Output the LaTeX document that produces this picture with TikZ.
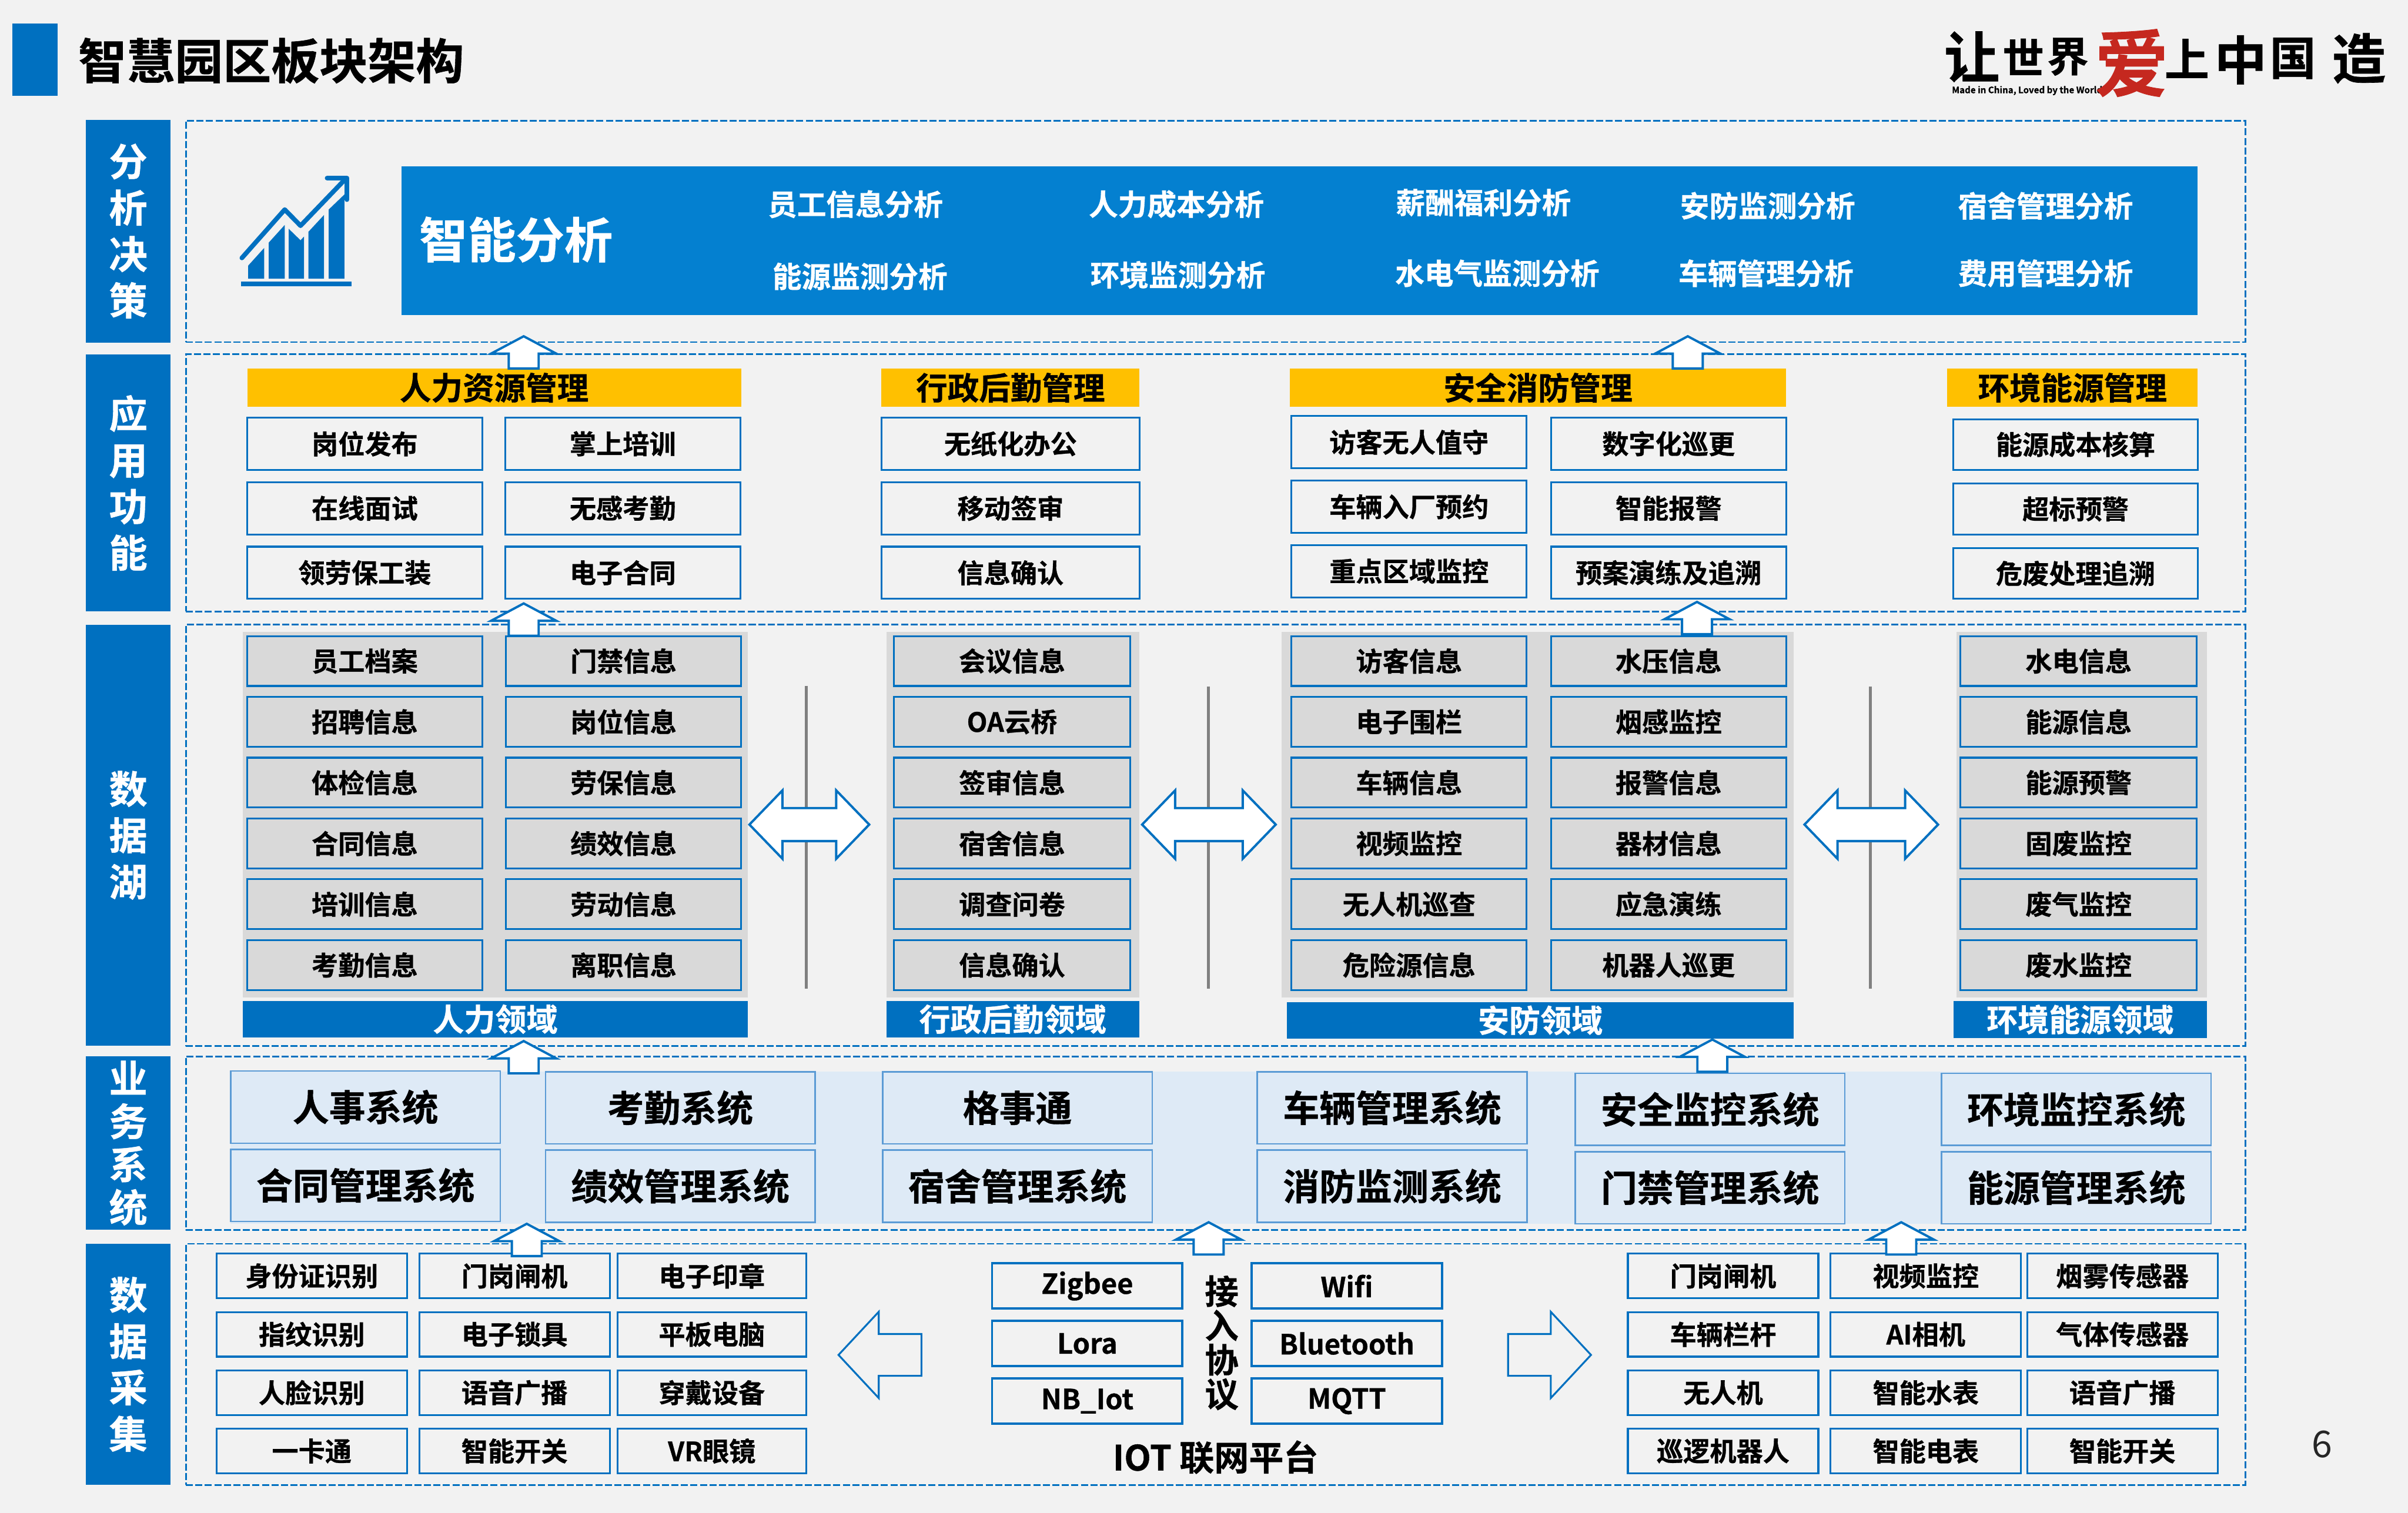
\documentclass[tikz,border=0pt]{standalone}
\usepackage{fontspec}
\setmainfont{Noto Sans CJK SC}[BoldFont={* Bold},BoldFeatures={FakeBold=0.7}]
\usepackage{tikz}
\usetikzlibrary{arrows.meta,positioning,shapes.arrows}
\definecolor{pagebg}{HTML}{F2F2F2}
\definecolor{deepblue}{HTML}{0070C0}
\definecolor{midblue}{HTML}{0480D0}
\definecolor{paleblue}{HTML}{DEEAF6}
\definecolor{softblue}{HTML}{5B9BD5}
\definecolor{amber}{HTML}{FFC000}
\definecolor{lakegray}{HTML}{D9D9D9}
\definecolor{logored}{HTML}{C5281F}
\newcommand{\cnfont}[1]{\bfseries\fontsize{#1}{#1}\selectfont}

\begin{document}
\begin{tikzpicture}[x=1pt, y=-1pt, >=Latex, node distance=8pt]
  \tikzstyle{every node}=[inner sep=0pt, outer sep=0pt]
  \tikzstyle{frame}=[draw=deepblue, line width=1.1pt, dash pattern=on 4.6pt off 1.6pt, anchor=north west, minimum width=1341pt]
  \tikzstyle{sidebar}=[fill=deepblue, text=white, anchor=north west, align=center, minimum width=55pt, font=\bfseries\fontsize{25}{30.2}\selectfont]
  \tikzstyle{topic}=[text=white, font=\cnfont{19}]
  \tikzstyle{header}=[fill=amber, minimum height=25pt, font=\cnfont{20.5}]
  \tikzstyle{appbox}=[draw=deepblue, line width=1.2pt, fill=pagebg, minimum width=153pt, minimum height=34pt, font=\cnfont{17.3}]
  \tikzstyle{lakebox}=[appbox, fill=lakegray, minimum height=32.5pt]
  \tikzstyle{panel}=[fill=lakegray, anchor=north west, minimum height=238pt]
  \tikzstyle{fieldbar}=[fill=deepblue, text=white, anchor=north west, minimum height=24pt, font=\cnfont{20.3}]
  \tikzstyle{sysbox}=[draw=softblue, line width=1pt, fill=paleblue, minimum width=175.5pt, minimum height=47pt, font=\cnfont{23.7}]
  \tikzstyle{getbox}=[appbox, minimum width=124pt, minimum height=29pt]
  \tikzstyle{linkbox}=[appbox, line width=1.5pt, minimum width=124pt, minimum height=29.5pt, font=\bfseries\fontsize{18}{18}\selectfont]
  \tikzstyle{divider}=[draw=gray, line width=2pt]
  \tikzstyle{uparrow}=[single arrow, draw=deepblue, line width=1.5pt, fill=white, shape border rotate=90, anchor=tip, inner xsep=9pt, minimum height=21pt, minimum width=41pt, single arrow head extend=11.5pt, single arrow tip angle=124]
  \tikzstyle{twoway}=[double arrow, draw=deepblue, line width=1.5pt, fill=white, inner ysep=10pt, minimum width=43pt, double arrow head extend=11.5pt, double arrow tip angle=92]
  \tikzstyle{sidearrow}=[single arrow, draw=deepblue, line width=1.2pt, fill=pagebg, inner ysep=13pt, minimum width=55pt, minimum height=54pt, single arrow head extend=14.5pt, single arrow tip angle=94, anchor=tip]

  \fill[pagebg] (0,0) rectangle (1568,985.2);
  \useasboundingbox (0,0) rectangle (1568,985.2);

  \node[fill=deepblue, anchor=north west, minimum width=29.5pt, minimum height=47pt] (titlebar) at (8,15.5) {};
  \node[anchor=west, font=\cnfont{31.4}] (title) at (51,39.5) {智慧园区板块架构};

  \node[font=\bfseries\fontsize{5.8}{7}\selectfont] (logosub) at (1320,59) {Made in China, Loved by the World};
  \node[font=\cnfont{36}] (logoa) at (1284,37) {让};
  \node[font=\cnfont{27}, right=2pt of logoa] (logob) {世};
  \node[font=\cnfont{27}, right=2pt of logob] (logoc) {界};
  \node[font=\cnfont{48}, text=logored] (logod) at (1388,41) {爱};
  \node[font=\cnfont{29}] (logoe) at (1424,38) {上};
  \node[font=\cnfont{34}] (logof) at (1459,39) {中};
  \node[font=\cnfont{30}] (logog) at (1493,38) {国};
  \node[font=\cnfont{35}] (logoh) at (1536,38) {造};

  \node[sidebar, minimum height=145pt] (sidea) at (56,78) {分\\析\\决\\策};
  \node[sidebar, minimum height=167pt] (sideb) at (56,231) {应\\用\\功\\能};
  \node[sidebar, minimum height=274pt] (sidec) at (56,407) {数\\据\\湖};
  \node[sidebar, minimum height=113pt, font=\bfseries\fontsize{25}{28}\selectfont] (sided) at (56,688) {业\\务\\系\\统};
  \node[sidebar, minimum height=157pt] (sidee) at (56,810) {数\\据\\采\\集};

  \node[frame, minimum height=144.3pt] (framea) at (121,78.5) {};
  \node[frame, minimum height=167.5pt] (frameb) at (121,230.8) {};
  \node[frame, minimum height=274.5pt] (framec) at (121,406.8) {};
  \node[frame, minimum height=113pt] (framed) at (121,688) {};
  \node[frame, minimum height=157pt] (framee) at (121,810) {};

  \fill[deepblue] (161.6,181.5) -- (161.6,173) -- (172,161.5) -- (172,181.5) -- cycle;
  \fill[deepblue] (175,181.5) -- (175,158) -- (185.4,146.5) -- (185.4,181.5) -- cycle;
  \fill[deepblue] (188,181.5) -- (188,149) -- (195.7,156.5) -- (198,154) -- (198,181.5) -- cycle;
  \fill[deepblue] (200.8,181.5) -- (200.8,151) -- (211,140) -- (211,181.5) -- cycle;
  \fill[deepblue] (214,181.5) -- (214,136.5) -- (224.3,126.6) -- (224.3,181.5) -- cycle;
  \fill[deepblue] (157,183.5) rectangle (229,186.4);
  \draw[deepblue, line width=3pt, line cap=round, line join=round] (157.5,168) -- (185.4,136.5) -- (195.7,147) -- (225.5,116);
  \draw[deepblue, line width=3pt, line cap=round, line join=round] (213,116) -- (226,116) -- (226,130);

  \node[fill=midblue, anchor=north west, minimum width=1169.5pt, minimum height=96.5pt] (aiband) at (261.3,108.5) {};
  \node[text=white, font=\cnfont{31.5}] (aititle) at (336,156) {智能分析};
  \node[topic] (aistaff) at (557,133) {员工信息分析};
  \node[topic] (aienergy) at (560,180) {能源监测分析};
  \node[topic] (aicost) at (766,133) {人力成本分析};
  \node[topic] (aienv) at (767,179) {环境监测分析};
  \node[topic] (aipay) at (966,132) {薪酬福利分析};
  \node[topic] (aiutil) at (975,178) {水电气监测分析};
  \node[topic] (aisafe) at (1151,134) {安防监测分析};
  \node[topic] (aicar) at (1150,178) {车辆管理分析};
  \node[topic] (aidorm) at (1332,134) {宿舍管理分析};
  \node[topic] (aifee) at (1332,178) {费用管理分析};

  \node[header, minimum width=321.5pt] (headhr) at (321.8,252.5) {人力资源管理};
  \node[header, minimum width=168pt] (headadmin) at (658,252.5) {行政后勤管理};
  \node[header, minimum width=323pt] (headsafe) at (1001.5,252.5) {安全消防管理};
  \node[header, minimum width=163pt] (headenv) at (1349.5,252.5) {环境能源管理};

  \node[appbox] (hrpost) at (237.5,289) {岗位发布};
  \node[appbox, below=of hrpost] (hrview) {在线面试};
  \node[appbox, below=of hrview] (hrgear) {领劳保工装};
  \node[appbox, right=15pt of hrpost] (hrlearn) {掌上培训};
  \node[appbox, below=of hrlearn] (hrclock) {无感考勤};
  \node[appbox, below=of hrclock] (hrsign) {电子合同};

  \node[appbox, minimum width=168pt] (adpaper) at (658,289) {无纸化办公};
  \node[appbox, minimum width=168pt, below=of adpaper] (admobile) {移动签审};
  \node[appbox, minimum width=168pt, below=of admobile] (adcheck) {信息确认};

  \node[appbox] (sfguest) at (917.5,288) {访客无人值守};
  \node[appbox, below=of sfguest] (sfcar) {车辆入厂预约};
  \node[appbox, below=of sfcar] (sfzone) {重点区域监控};
  \node[appbox] (sfpatrol) at (1086.5,289) {数字化巡更};
  \node[appbox, below=of sfpatrol] (sfalarm) {智能报警};
  \node[appbox, below=of sfalarm] (sfdrill) {预案演练及追溯};

  \node[appbox, minimum width=159pt, minimum height=33pt] (encost) at (1351.5,289.5) {能源成本核算};
  \node[appbox, minimum width=159pt, minimum height=33pt, below=9pt of encost] (enover) {超标预警};
  \node[appbox, minimum width=159pt, minimum height=33pt, below=9pt of enover] (enwaste) {危废处理追溯};

  \node[panel, minimum width=329pt] (panelhr) at (158,411.7) {};
  \node[panel, minimum width=164.5pt] (paneladmin) at (577.2,411.7) {};
  \node[panel, minimum width=333.5pt] (panelsafe) at (834.6,411.7) {};
  \node[panel, minimum width=163pt] (panelenv) at (1274,411.7) {};

  \begin{scope}[node distance=7.1pt]
    \node[lakebox] (lkfile) at (237.5,430.5) {员工档案};
    \node[lakebox, below=of lkfile] (lkhire) {招聘信息};
    \node[lakebox, below=of lkhire] (lkbody) {体检信息};
    \node[lakebox, below=of lkbody] (lkdeal) {合同信息};
    \node[lakebox, below=of lkdeal] (lkcourse) {培训信息};
    \node[lakebox, below=of lkcourse] (lkattend) {考勤信息};
    \node[lakebox] (lkdoor) at (406,430.5) {门禁信息};
    \node[lakebox, below=of lkdoor] (lkjob) {岗位信息};
    \node[lakebox, below=of lkjob] (lkgear) {劳保信息};
    \node[lakebox, below=of lkgear] (lkkpi) {绩效信息};
    \node[lakebox, below=of lkkpi] (lklabor) {劳动信息};
    \node[lakebox, below=of lklabor] (lkleave) {离职信息};

    \node[lakebox, minimum width=154pt] (lkmeet) at (659,430.5) {会议信息};
    \node[lakebox, minimum width=154pt, below=of lkmeet] (lkoa) {OA云桥};
    \node[lakebox, minimum width=154pt, below=of lkoa] (lkreview) {签审信息};
    \node[lakebox, minimum width=154pt, below=of lkreview] (lkdorm) {宿舍信息};
    \node[lakebox, minimum width=154pt, below=of lkdorm] (lksurvey) {调查问卷};
    \node[lakebox, minimum width=154pt, below=of lksurvey] (lkcheck) {信息确认};

    \node[lakebox] (lkguest) at (917.5,430.5) {访客信息};
    \node[lakebox, below=of lkguest] (lkfence) {电子围栏};
    \node[lakebox, below=of lkfence] (lkcar) {车辆信息};
    \node[lakebox, below=of lkcar] (lkvideo) {视频监控};
    \node[lakebox, below=of lkvideo] (lkdrone) {无人机巡查};
    \node[lakebox, below=of lkdrone] (lkhazard) {危险源信息};
    \node[lakebox] (lkwater) at (1086.5,430.5) {水压信息};
    \node[lakebox, below=of lkwater] (lksmoke) {烟感监控};
    \node[lakebox, below=of lksmoke] (lkalarm) {报警信息};
    \node[lakebox, below=of lkalarm] (lkkit) {器材信息};
    \node[lakebox, below=of lkkit] (lkdrill) {应急演练};
    \node[lakebox, below=of lkdrill] (lkrobot) {机器人巡更};

    \node[lakebox, minimum width=154pt] (lkpower) at (1353.5,430.5) {水电信息};
    \node[lakebox, minimum width=154pt, below=of lkpower] (lkenergy) {能源信息};
    \node[lakebox, minimum width=154pt, below=of lkenergy] (lkwarn) {能源预警};
    \node[lakebox, minimum width=154pt, below=of lkwarn] (lksolid) {固废监控};
    \node[lakebox, minimum width=154pt, below=of lksolid] (lkgas) {废气监控};
    \node[lakebox, minimum width=154pt, below=of lkgas] (lkdrain) {废水监控};
  \end{scope}

  \node[fieldbar, minimum width=329pt] (fieldhr) at (158,651.8) {人力领域};
  \node[fieldbar, minimum width=164.5pt] (fieldadmin) at (577.2,651.8) {行政后勤领域};
  \node[fieldbar, minimum width=330pt] (fieldsafe) at (838,652.5) {安防领域};
  \node[fieldbar, minimum width=165pt] (fieldenv) at (1272,652) {环境能源领域};

  \coordinate (cuta) at (525,446.6);
  \coordinate (cutb) at (525,643.7);
  \coordinate (cutc) at (787,447);
  \coordinate (cutd) at (787,644);
  \coordinate (cute) at (1218,447);
  \coordinate (cutf) at (1218,644);
  \draw[divider] (cuta) -- (cutb);
  \draw[divider] (cutc) -- (cutd);
  \draw[divider] (cute) -- (cutf);

  \node[twoway, minimum height=78pt] (linka) at (527,537) {};
  \node[twoway, minimum height=87pt] (linkb) at (787.2,537) {};
  \node[twoway, minimum height=87pt] (linkc) at (1218.5,537) {};

  \node[fill=paleblue, anchor=north west, minimum width=1290pt, minimum height=99pt] (sysband) at (150,698) {};
  \node[sysbox] (syspeople) at (238,721) {人事系统};
  \node[sysbox, below=4pt of syspeople] (syscontract) {合同管理系统};
  \node[sysbox] (sysattend) at (443,721.5) {考勤系统};
  \node[sysbox, below=4pt of sysattend] (syskpi) {绩效管理系统};
  \node[sysbox] (sysgrid) at (662.5,721.5) {格事通};
  \node[sysbox, below=4pt of sysgrid] (sysdorm) {宿舍管理系统};
  \node[sysbox] (syscar) at (906.5,721.5) {车辆管理系统};
  \node[sysbox, below=4pt of syscar] (sysfire) {消防监测系统};
  \node[sysbox] (syssafe) at (1113.5,722.5) {安全监控系统};
  \node[sysbox, below=4pt of syssafe] (sysdoor) {门禁管理系统};
  \node[sysbox] (sysenv) at (1352,722.5) {环境监控系统};
  \node[sysbox, below=4pt of sysenv] (syspower) {能源管理系统};

  \begin{scope}[node distance=9pt]
    \node[getbox] (getid) at (203,831) {身份证识别};
    \node[getbox, below=of getid] (getprint) {指纹识别};
    \node[getbox, below=of getprint] (getface) {人脸识别};
    \node[getbox, below=of getface] (getcard) {一卡通};
    \node[getbox] (getgate) at (335,831) {门岗闸机};
    \node[getbox, below=of getgate] (getlock) {电子锁具};
    \node[getbox, below=of getlock] (getvoice) {语音广播};
    \node[getbox, below=of getvoice] (getswitch) {智能开关};
    \node[getbox, minimum width=123pt] (getseal) at (463.5,831) {电子印章};
    \node[getbox, minimum width=123pt, below=of getseal] (getpad) {平板电脑};
    \node[getbox, minimum width=123pt, below=of getpad] (getwear) {穿戴设备};
    \node[getbox, minimum width=123pt, below=of getwear] (getvr) {VR眼镜};

    \node[getbox] (inggate) at (1122,831) {门岗闸机};
    \node[getbox, below=of inggate] (ingbar) {车辆栏杆};
    \node[getbox, below=of ingbar] (ingdrone) {无人机};
    \node[getbox, below=of ingdrone] (ingrobot) {巡逻机器人};
    \node[getbox] (ingvideo) at (1254,831) {视频监控};
    \node[getbox, below=of ingvideo] (ingcam) {AI相机};
    \node[getbox, below=of ingcam] (ingwater) {智能水表};
    \node[getbox, below=of ingwater] (ingmeter) {智能电表};
    \node[getbox] (ingsmoke) at (1382,831) {烟雾传感器};
    \node[getbox, below=of ingsmoke] (inggas) {气体传感器};
    \node[getbox, below=of inggas] (ingvoice) {语音广播};
    \node[getbox, below=of ingvoice] (ingswitch) {智能开关};
  \end{scope}

  \node[linkbox] (zigbee) at (708,837.5) {Zigbee};
  \node[linkbox, below=of zigbee] (lora) {Lora};
  \node[linkbox, below=of lora] (nbiot) {NB\_Iot};
  \node[linkbox] (wifi) at (877,837.5) {Wifi};
  \node[linkbox, below=of wifi] (bluetooth) {Bluetooth};
  \node[linkbox, below=of bluetooth] (mqtt) {MQTT};
  \node[align=center, font=\bfseries\fontsize{22}{22.3}\selectfont] (protocol) at (795.5,874.5) {接\\入\\协\\议};
  \node[font=\cnfont{22.6}] (iotname) at (791.5,949) {IOT 联网平台};

  \node[sidearrow, shape border rotate=180] (pushleft) at (546,882.4) {};
  \node[sidearrow] (pushright) at (1036,882.4) {};

  \node[uparrow] (upa) at (341,219) {};
  \node[uparrow] (upb) at (1099,219) {};
  \node[uparrow] (upc) at (341,393) {};
  \node[uparrow] (upd) at (1105,392) {};
  \node[uparrow] (upe) at (341,678) {};
  \node[uparrow] (upf) at (1115,677) {};
  \node[uparrow] (upg) at (343,797) {};
  \node[uparrow] (uph) at (787,796) {};
  \node[uparrow] (upi) at (1238,796) {};

  \node[font=\fontsize{24}{24}\selectfont, text=black!85] (pagenum) at (1512,940.5) {6};
\end{tikzpicture}
\end{document}
